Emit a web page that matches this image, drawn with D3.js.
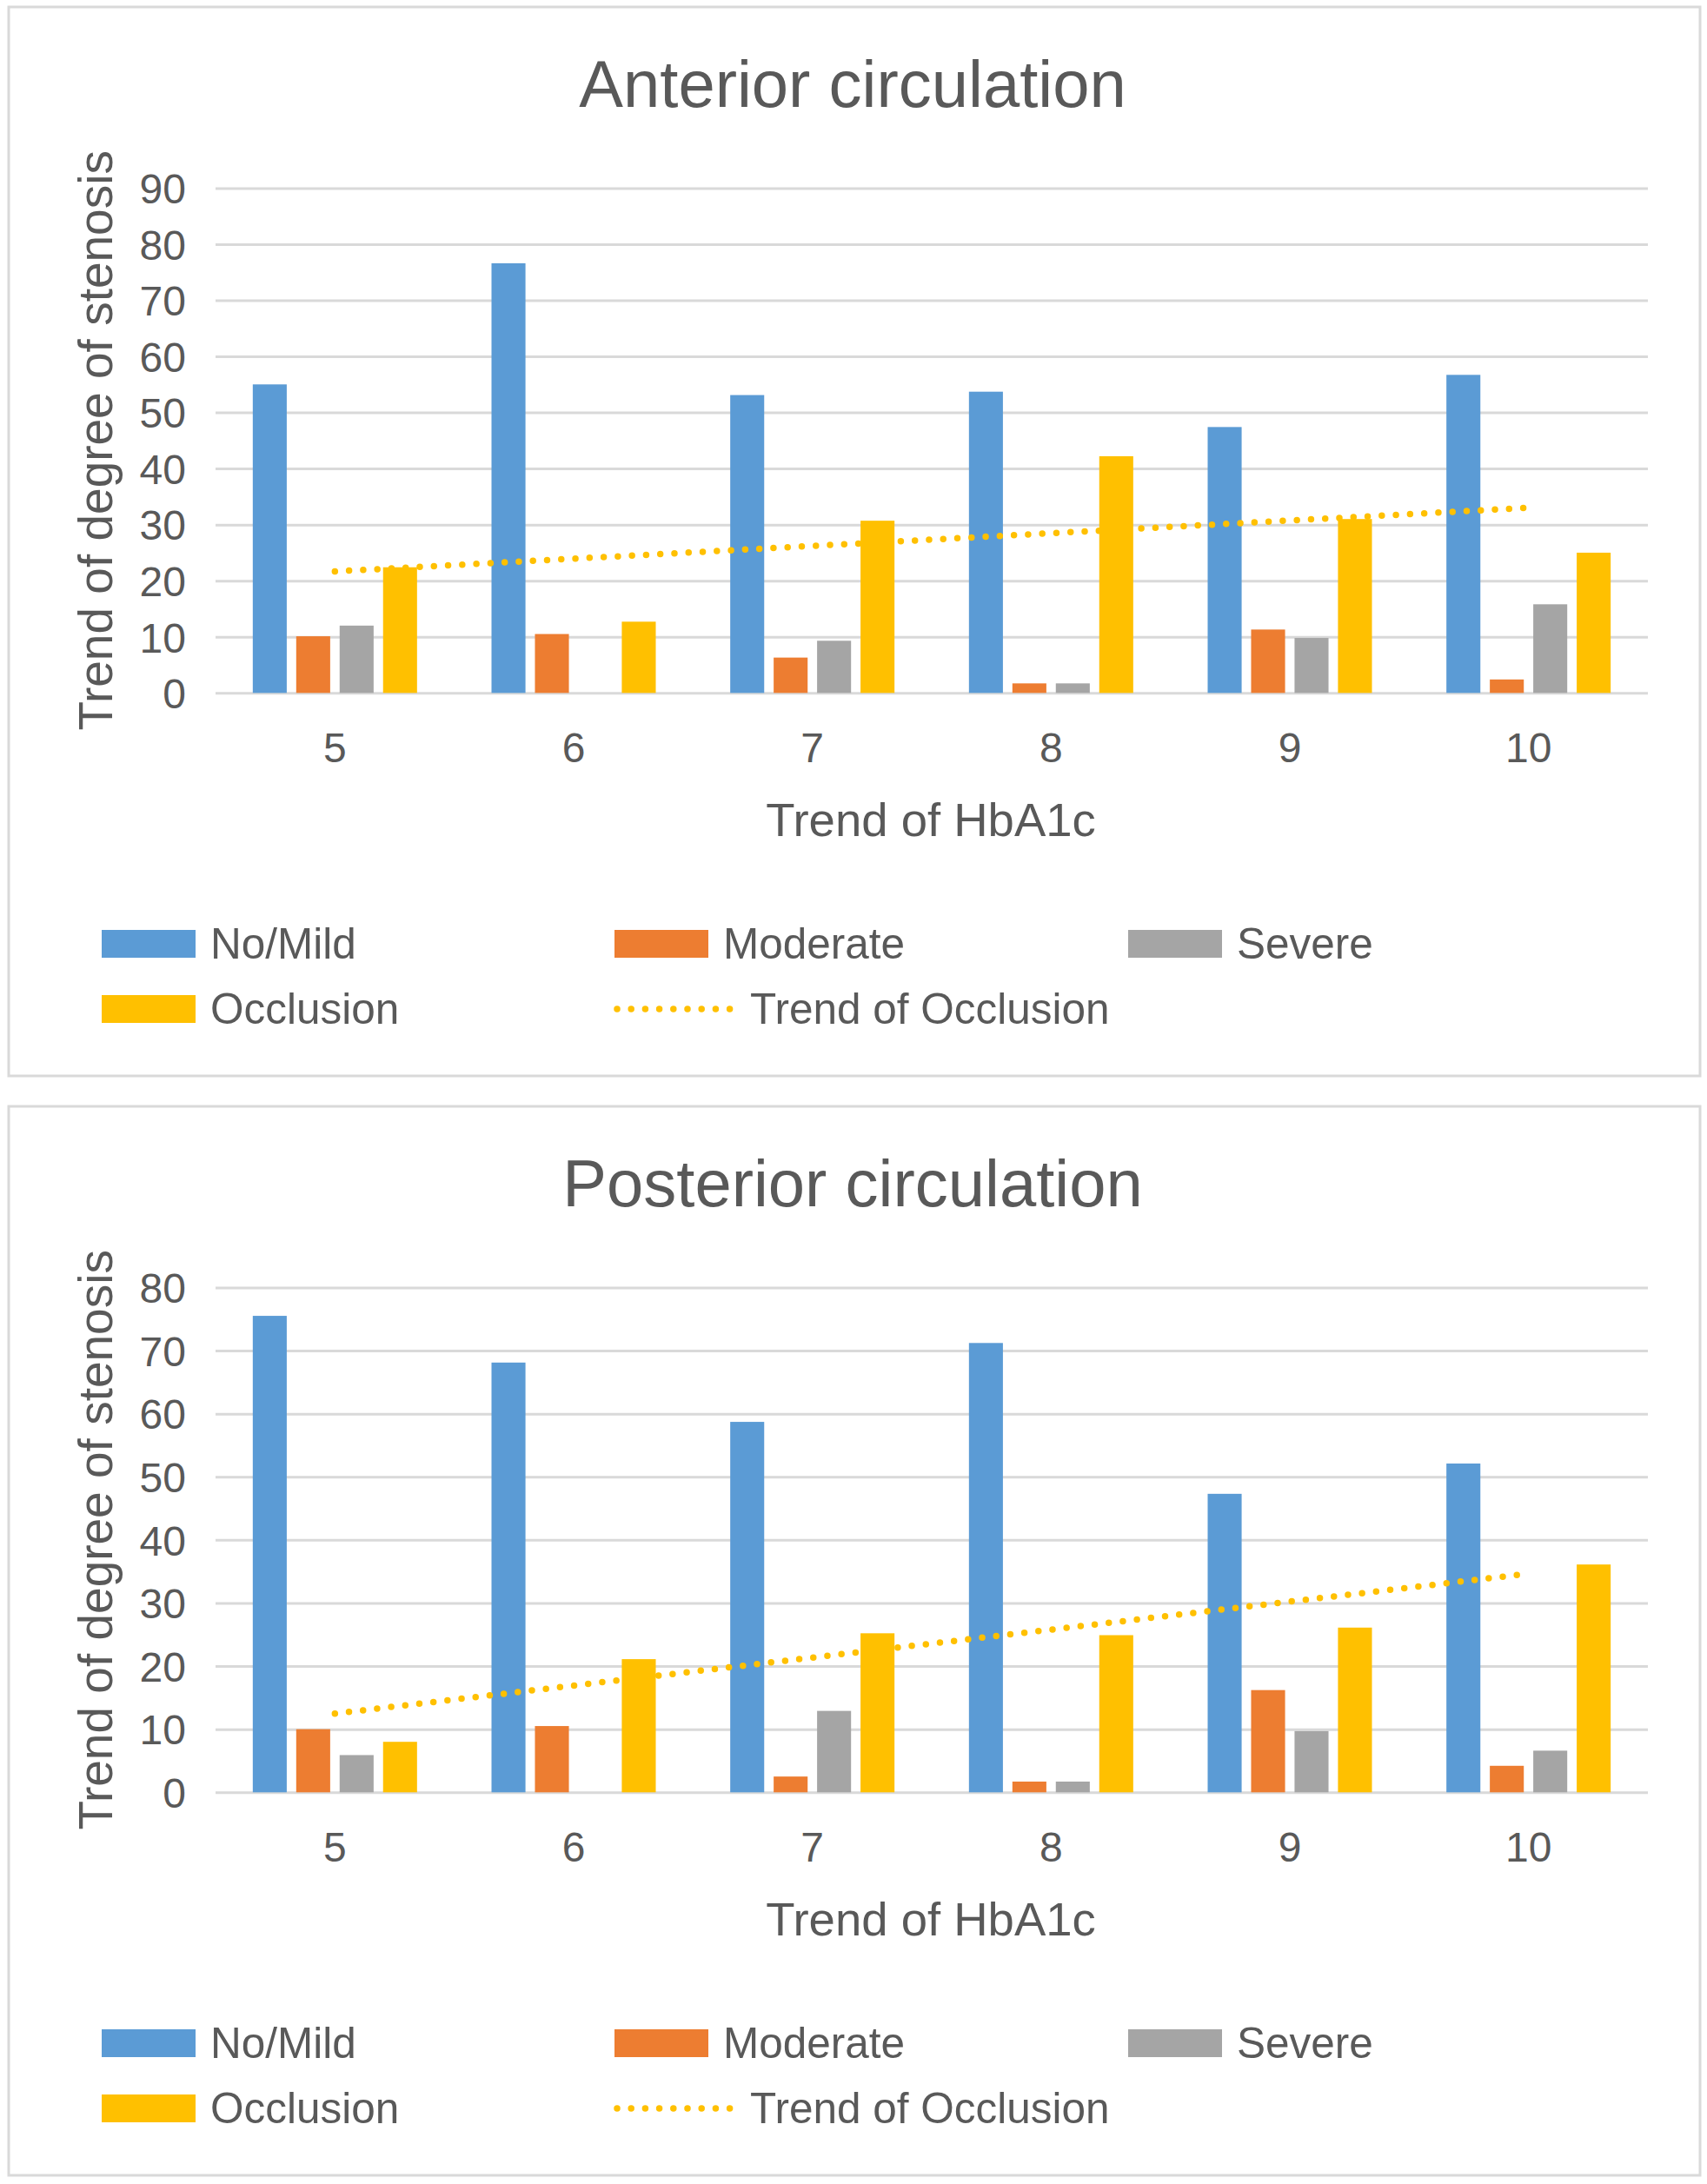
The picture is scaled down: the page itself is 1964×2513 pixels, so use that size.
<!DOCTYPE html>
<html>
<head>
<meta charset="utf-8">
<script src="https://cdn.jsdelivr.net/npm/d3@7"></script>
<style>
  body { margin: 0; background: #fff; }
  svg { display: block; font-family: "Liberation Sans", Arial, Helvetica, sans-serif; }
</style>
</head>
<body>
<svg id="fig" width="1964" height="2513"></svg>
<script>
// data
const categories = ["5", "6", "7", "8", "9", "10"];
const seriesNames = ["No/Mild", "Moderate", "Severe", "Occlusion"];

const anteriorNoMild    = [55.0, 76.6, 53.1, 53.7, 47.4, 56.7];
const anteriorModerate  = [10.1, 10.5, 6.3, 1.7, 11.3, 2.4];
const anteriorSevere    = [12.0, 0, 9.3, 1.7, 9.8, 15.8];
const anteriorOcclusion = [22.4, 12.7, 30.7, 42.2, 31.0, 25.0];

const posteriorNoMild    = [75.5, 68.1, 58.7, 71.2, 47.3, 52.1];
const posteriorModerate  = [10.0, 10.5, 2.5, 1.7, 16.2, 4.2];
const posteriorSevere    = [5.9, 0, 12.9, 1.7, 9.7, 6.6];
const posteriorOcclusion = [8.0, 21.1, 25.2, 24.9, 26.1, 36.1];

const anteriorTicks  = [0, 10, 20, 30, 40, 50, 60, 70, 80, 90];
const posteriorTicks = [0, 10, 20, 30, 40, 50, 60, 70, 80];

const colors = {
    "No/Mild": "#5b9bd5",
    "Moderate": "#ed7d31",
    "Severe": "#a5a5a5",
    "Occlusion": "#ffc000"
};
const textColor = "#595959";
const gridColor = "#d9d9d9";

const svg = d3.select("#fig");
svg.append("rect").attr("width", 1964).attr("height", 2513).attr("fill", "#fff");

const plot = { left: 248, right: 1896, top: 216.4, bottom: 797.3 };

function drawChart(offsetY, title, series, ticks) {
    const g = svg.append("g").attr("transform", `translate(0,${offsetY})`);

    // outer frame
    g.append("rect")
        .attr("x", 10).attr("y", 8)
        .attr("width", 1946).attr("height", 1230)
        .attr("fill", "none")
        .attr("stroke", gridColor)
        .attr("stroke-width", 3);

    g.append("text")
        .attr("x", 981).attr("y", 123)
        .attr("text-anchor", "middle")
        .attr("font-size", 76)
        .attr("fill", textColor)
        .text(title);

    const x0 = d3.scaleBand().domain(categories).range([plot.left, plot.right]);
    const x1 = d3.scaleBand().domain(seriesNames).range([-94.5, 94.5]).paddingInner(0.218);
    const y = d3.scaleLinear().domain([0, d3.max(ticks)]).range([plot.bottom, plot.top]);

    // gridlines + y labels
    const yAxis = g.append("g")
        .attr("transform", `translate(${plot.left},0)`)
        .call(d3.axisLeft(y).tickValues(ticks).tickSize(-(plot.right - plot.left)).tickPadding(34));
    yAxis.select(".domain").remove();
    yAxis.selectAll(".tick line").attr("stroke", gridColor).attr("stroke-width", 3);
    yAxis.selectAll(".tick text")
        .attr("fill", textColor)
        .attr("font-size", 48)
        .attr("font-family", null)
        .attr("dy", "0.36em");

    // bars
    const rows = categories.map((c, i) => ({
        cat: c,
        vals: seriesNames.map(s => ({ key: s, value: series[s][i] }))
    }));
    g.append("g").selectAll("g")
        .data(rows)
        .join("g")
        .attr("transform", d => `translate(${x0(d.cat) + x0.bandwidth() / 2},0)`)
        .selectAll("rect")
        .data(d => d.vals)
        .join("rect")
        .attr("x", d => x1(d.key))
        .attr("width", x1.bandwidth())
        .attr("y", d => y(d.value))
        .attr("height", d => y(0) - y(d.value))
        .attr("fill", d => colors[d.key]);

    // x labels
    const xAxis = g.append("g")
        .attr("transform", `translate(0,${plot.bottom})`)
        .call(d3.axisBottom(x0).tickSize(0).tickPadding(46));
    xAxis.select(".domain").remove();
    xAxis.selectAll(".tick text")
        .attr("fill", textColor)
        .attr("font-size", 48)
        .attr("font-family", null);

    // linear trend of occlusion (least squares, like the spreadsheet trendline)
    const occ = series["Occlusion"];
    const xs = occ.map((_, i) => i + 1);
    const mx = d3.mean(xs), my = d3.mean(occ);
    const slope = d3.sum(xs, (xv, i) => (xv - mx) * (occ[i] - my)) / d3.sum(xs, xv => (xv - mx) ** 2);
    const icpt = my - slope * mx;
    const trend = [xs[0], xs[xs.length - 1]].map(xv => ({ cat: categories[xv - 1], v: icpt + slope * xv }));
    g.append("path")
        .datum(trend)
        .attr("d", d3.line().x(d => x0(d.cat) + x0.bandwidth() / 2).y(d => y(d.v)))
        .attr("fill", "none")
        .attr("stroke", colors["Occlusion"])
        .attr("stroke-width", 7.5)
        .attr("stroke-linecap", "round")
        .attr("stroke-dasharray", "0 16.3");

    // axis titles
    g.append("text")
        .attr("x", (plot.left + plot.right) / 2 - 1)
        .attr("y", 961.5)
        .attr("text-anchor", "middle")
        .attr("font-size", 54.5)
        .attr("fill", textColor)
        .text("Trend of HbA1c");

    g.append("text")
        .attr("transform", `translate(129,${(plot.top + plot.bottom) / 2}) rotate(-90)`)
        .attr("text-anchor", "middle")
        .attr("font-size", 55)
        .attr("fill", textColor)
        .text("Trend of degree of stenosis");

    // legend
    const legendItems = [
        { label: "No/Mild", type: "rect", x: 117, y: 1070 },
        { label: "Moderate", type: "rect", x: 707, y: 1070 },
        { label: "Severe", type: "rect", x: 1298, y: 1070 },
        { label: "Occlusion", type: "rect", x: 117, y: 1145 },
        { label: "Trend of Occlusion", type: "line", x: 707, y: 1145 }
    ];
    const lg = g.append("g").selectAll("g")
        .data(legendItems)
        .join("g")
        .attr("transform", d => `translate(${d.x},${d.y})`);

    lg.filter(d => d.type === "rect").append("rect")
        .attr("width", 108).attr("height", 32)
        .attr("fill", d => colors[d.label]);

    lg.filter(d => d.type === "line").append("line")
        .attr("x1", 3).attr("x2", 133)
        .attr("y1", 16).attr("y2", 16)
        .attr("stroke", colors["Occlusion"])
        .attr("stroke-width", 7.5)
        .attr("stroke-linecap", "round")
        .attr("stroke-dasharray", "0 16.2");

    lg.append("text")
        .attr("x", d => d.type === "rect" ? 125 : 156)
        .attr("y", 33)
        .attr("font-size", 49.5)
        .attr("fill", textColor)
        .text(d => d.label);
}

drawChart(0, "Anterior circulation", {
    "No/Mild": anteriorNoMild,
    "Moderate": anteriorModerate,
    "Severe": anteriorSevere,
    "Occlusion": anteriorOcclusion
}, anteriorTicks);

drawChart(1265, "Posterior circulation", {
    "No/Mild": posteriorNoMild,
    "Moderate": posteriorModerate,
    "Severe": posteriorSevere,
    "Occlusion": posteriorOcclusion
}, posteriorTicks);
</script>
</body>
</html>
